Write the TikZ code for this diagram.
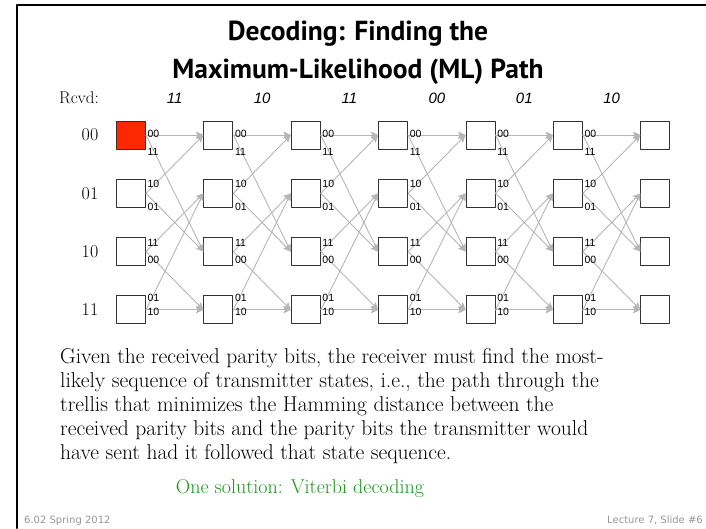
\documentclass[tikz,border=0pt]{standalone}
\usepackage{fontspec}
\usetikzlibrary{arrows.meta}
\newfontfamily\headfont{PT Sans}
\newfontfamily\bitfont{Liberation Sans}
\newfontfamily\footfont{DejaVu Sans}
\definecolor{startred}{RGB}{252,40,2}
\definecolor{arrowgray}{RGB}{182,182,182}
\definecolor{vitgreen}{RGB}{24,150,24}
\definecolor{footgray}{RGB}{150,150,150}

\begin{document}
\begin{tikzpicture}[x=1pt, y=-1pt, line cap=round, line join=round,
  state/.style={draw=black!80, line width=0.9pt, minimum width=29pt, minimum height=28pt, inner sep=0pt},
  trans/.style={draw=arrowgray, line width=0.9pt, -{Stealth[length=7.5pt,width=7pt,inset=1.5pt]}},
  bits/.style={font=\bitfont\fontsize{10.5}{11}\selectfont, inner sep=0pt, anchor=west},
  rowlab/.style={font=\fontsize{18}{18}\selectfont, inner sep=0pt},
  rcvdbits/.style={font=\bitfont\itshape\fontsize{15}{15}\selectfont, inner sep=0pt}]
  \useasboundingbox (0,0) rectangle (706,528);
  \draw[line width=2pt] (17,528) -- (17,5) -- (706,5);

  \node[font=\headfont\bfseries\fontsize{27.5}{38}\selectfont, align=center] (title) at (358,53)
    {Decoding: Finding the\\Maximum-Likelihood (ML) Path};

  \node[anchor=west, inner sep=0pt, font=\fontsize{17}{17}\selectfont] (rcvd) at (59,98) {Rcvd:};
  \foreach \b [count=\i] in {11,10,11,00,01,10}
    \node[rcvdbits] (rx\i) at ({131+87.4*(\i-0.5)},98) {\b};

  \foreach \r/\s in {0/00,1/01,2/10,3/11}
    \node[rowlab] (row\r) at (90,{135+58.3*\r}) {\s};

  \foreach \c in {0,...,6}
    \foreach \r in {0,...,3} {
      \ifnum\c\r=0 \def\boxfill{startred}\else\def\boxfill{white}\fi
      \node[state, fill=\boxfill] (s\c\r) at ({131+87.4*\c},{135+58.3*\r}) {};
    }

  \foreach \c [evaluate=\c as \n using int(\c+1)] in {0,...,5} {
    \foreach \a/\b in {0/0,0/2,1/0,1/2,2/1,2/3,3/1,3/3}
      \draw[trans] (s\c\a.east) -- (s\n\b.west);
    \foreach \r/\up/\dn/\uy/\dy in {0/00/11/-1/17, 1/10/01/-9.5/14, 2/11/00/-8.5/8.5, 3/01/10/-12/2} {
      \node[bits] (hi\c\r) at ([shift={(1.5,\uy)}]s\c\r.east) {\up};
      \node[bits] (lo\c\r) at ([shift={(1.5,\dy)}]s\c\r.east) {\dn};
    }
  }

  \node[anchor=north west, align=left, inner sep=0pt, font=\fontsize{21.5}{24}\selectfont] (para) at (60,348)
    {Given the received parity bits, the receiver must find the most-\\
     likely sequence of transmitter states, i.e., the path through the\\
     trellis that minimizes the Hamming distance between the\\
     received parity bits and the parity bits the transmitter would\\
     have sent had it followed that state sequence.};

  \node[anchor=base, text=vitgreen, font=\fontsize{20}{20}\selectfont] (viterbi) at (300,493)
    {One solution: Viterbi decoding};

  \node[anchor=base west, text=footgray, font=\footfont\fontsize{10}{10}\selectfont, inner sep=0pt] (course) at (24,523) {6.02 Spring 2012};
  \node[anchor=base east, text=footgray, font=\footfont\fontsize{10}{10}\selectfont, inner sep=0pt] (slide) at (703,523) {Lecture 7, Slide \#6};
\end{tikzpicture}
\end{document}
